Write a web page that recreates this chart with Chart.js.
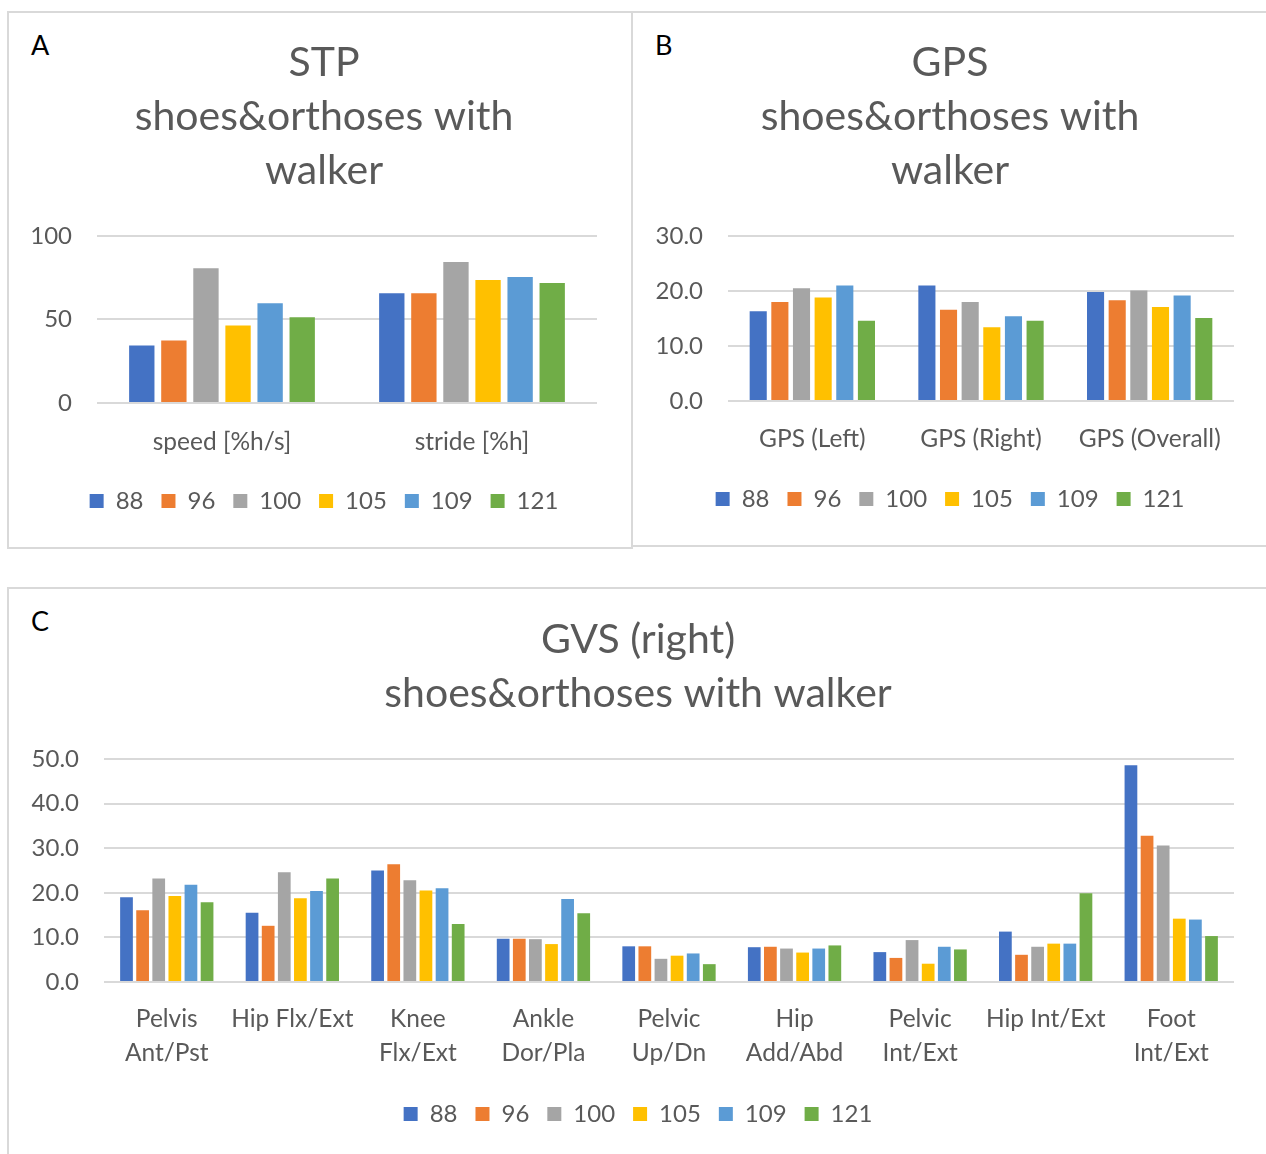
<!DOCTYPE html>
<html>
<head>
<meta charset="utf-8">
<script src="https://cdn.jsdelivr.net/npm/chart.js@4.4.0/dist/chart.umd.min.js"></script>
<style>
  body { margin: 0; background: #fff; width: 1266px; height: 1154px; position: relative; overflow: hidden; font-family: Lato, sans-serif; }
  .panel { position: absolute; border: 2px solid #d9d9d9; box-sizing: border-box; }
  canvas { position: absolute; }
  .letter { position: absolute; font-family: Lato, sans-serif; font-size: 27px; color: #000; }
</style>
</head>
<body>
<div class="panel" style="left:7px;top:11px;width:626px;height:538px;"></div>
<div class="panel" style="left:631px;top:11px;width:640px;height:536px;"></div>
<div class="panel" style="left:7px;top:587px;width:1264px;height:600px;"></div>
<div class="letter" style="left:31px;top:28px;">A</div>
<div class="letter" style="left:655px;top:28px;">B</div>
<div class="letter" style="left:31px;top:604px;">C</div>
<canvas id="stp" width="624" height="536" style="left:8px;top:12px;"></canvas>
<canvas id="gps" width="634" height="534" style="left:632px;top:12px;"></canvas>
<canvas id="gvs" width="1258" height="566" style="left:8px;top:588px;"></canvas>
<script>
// series (visit ids) and office colours
var seriesNames = ['88', '96', '100', '105', '109', '121'];
var seriesColors = ['#4472C4', '#ED7D31', '#A5A5A5', '#FFC000', '#5B9BD5', '#70AD47'];

// A - STP
var stpCategories = ['speed [%h/s]', 'stride [%h]'];
var stpValues = [
  [34.5, 65.7],
  [37.4, 65.7],
  [80.7, 84.5],
  [46.4, 73.7],
  [59.7, 75.5],
  [51.4, 71.9]
];

// B - GPS
var gpsCategories = ['GPS (Left)', 'GPS (Right)', 'GPS (Overall)'];
var gpsValues = [
  [16.3, 21.0, 19.8],
  [18.0, 16.6, 18.3],
  [20.5, 18.0, 20.1],
  [18.8, 13.4, 17.1],
  [21.0, 15.4, 19.2],
  [14.6, 14.6, 15.1]
];

// C - GVS (right)
var gvsCategories = [['Pelvis', 'Ant/Pst'], 'Hip Flx/Ext', ['Knee', 'Flx/Ext'], ['Ankle', 'Dor/Pla'],
  ['Pelvic', 'Up/Dn'], ['Hip', 'Add/Abd'], ['Pelvic', 'Int/Ext'], 'Hip Int/Ext', ['Foot', 'Int/Ext']];
var gvsValues = [
  [19.0, 15.5, 25.0, 9.7, 8.0, 7.8, 6.7, 11.3, 48.6],
  [16.1, 12.6, 26.4, 9.7, 8.0, 7.9, 5.4, 6.1, 32.8],
  [23.2, 24.6, 22.8, 9.6, 5.2, 7.5, 9.4, 7.9, 30.6],
  [19.3, 18.8, 20.5, 8.5, 5.9, 6.6, 4.1, 8.6, 14.2],
  [21.8, 20.4, 21.0, 18.6, 6.4, 7.5, 7.9, 8.6, 14.0],
  [17.9, 23.2, 13.0, 15.4, 4.0, 8.2, 7.3, 19.9, 10.3]
];

var stpTicks = [0, 50, 100];
var gpsTicks = [0, 10, 20, 30];
var gvsTicks = [0, 10, 20, 30, 40, 50];

var FONT = 'Lato';
var GREY = '#595959';

function makeChart(id, title, categories, values, ticks, decimals, opt) {
  var datasets = [];
  for (var i = 0; i < seriesNames.length; i++) {
    datasets.push({
      label: seriesNames[i],
      data: values[i],
      backgroundColor: seriesColors[i],
      borderWidth: 0,
      categoryPercentage: 0.77,
      barPercentage: 0.79
    });
  }
  return new Chart(document.getElementById(id).getContext('2d'), {
    type: 'bar',
    data: { labels: categories, datasets: datasets },
    options: {
      responsive: false,
      animation: false,
      // left/right padding kept nearly equal so title + legend centre on the panel
      layout: { padding: { left: opt.left, right: opt.right, top: 0, bottom: opt.bottom } },
      plugins: {
        title: {
          display: true,
          text: title,
          color: GREY,
          font: { family: FONT, size: 41, weight: 'normal', lineHeight: 1.317 },
          padding: { top: opt.titleTop, bottom: opt.titleBottom }
        },
        legend: {
          position: 'bottom',
          labels: {
            color: GREY,
            font: { family: FONT, size: 24 },
            boxWidth: 14,
            boxHeight: 14,
            padding: 18
          }
        },
        tooltip: { enabled: false }
      },
      scales: {
        x: {
          grid: { display: false, drawTicks: false },
          border: { display: false },
          ticks: { color: GREY, font: { family: FONT, size: 24.5, lineHeight: 1.39 }, padding: opt.xPad, maxRotation: 0, autoSkip: false },
          afterFit: function (s) { s.height = opt.xHeight; }
        },
        y: {
          min: ticks[0],
          max: ticks[ticks.length - 1],
          afterBuildTicks: function (s) { s.ticks = ticks.map(function (v) { return { value: v }; }); },
          grid: { color: '#d9d9d9', lineWidth: 2, drawTicks: false },
          border: { display: false },
          ticks: {
            color: GREY,
            font: { family: FONT, size: 24 },
            padding: 25,
            callback: function (v) { return v.toFixed(decimals); }
          },
          afterFit: function (s) {
            s.width = opt.yWidth;
            // labels stick out into the left padding, don't clip them
            s._computeLabelArea = function () { return undefined; };
          }
        }
      }
    }
  });
}

makeChart('stp', ['STP', 'shoes&orthoses with', 'walker'], stpCategories, stpValues, stpTicks, 0,
  { left: 43, right: 35, bottom: 25, titleTop: 24, titleBottom: 38, xPad: 22, xHeight: 68, yWidth: 46 });
makeChart('gps', ['GPS', 'shoes&orthoses with', 'walker'], gpsCategories, gpsValues, gpsTicks, 1,
  { left: 34, right: 32, bottom: 25, titleTop: 24, titleBottom: 38, xPad: 21, xHeight: 68, yWidth: 62 });
makeChart('gvs', ['GVS (right)', 'shoes&orthoses with walker'], gvsCategories, gvsValues, gvsTicks, 1,
  { left: 34, right: 32, bottom: 18, titleTop: 25, titleBottom: 38, xPad: 20, xHeight: 102, yWidth: 62 });
</script>
</body>
</html>
